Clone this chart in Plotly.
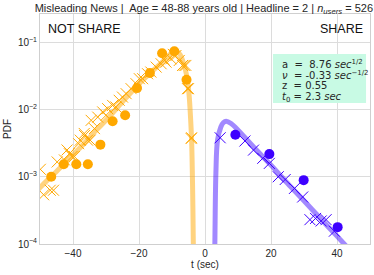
import plotly.graph_objects as go

# ---------------- data ----------------
# NOT SHARE (negative times): fitted curve
ns_line_t = [-52, -50, -45, -40, -35, -33, -30, -25, -20, -15, -12, -10, -9, -8.5, -7.5, -6.8, -6.0, -5.3, -4.8, -4.45, -4.06, -3.75, -3.55, -3.45, -3.35]
ns_line_y = [5.2e-4, 6.9e-4, 1.2e-3, 2.1e-3, 3.8e-3, 4.9e-3, 6.9e-3, 1.3e-2, 2.4e-2, 4.1e-2, 5.6e-2, 7.0e-2, 7.4e-2, 7.3e-2, 6.5e-2, 5.4e-2, 4.0e-2, 2.7e-2, 1.6e-2, 8.7e-3, 3.5e-3, 6.4e-4, 1.1e-4, 4e-5, 1e-5]

# NOT SHARE binned histogram (circles)
ns_bin_t = [-46.6, -42.8, -39.0, -35.5, -31.7, -28.0, -24.2, -20.6, -16.7, -13.0, -9.3, -5.6]
ns_bin_y = [1.0e-3, 1.53e-3, 1.53e-3, 1.53e-3, 3.0e-3, 6.7e-3, 8.2e-3, 2.08e-2, 3.48e-2, 6.87e-2, 7.36e-2, 2.77e-2]

# NOT SHARE fine histogram (crosses)
ns_fine_t = [-49.9, -48.9, -46.9, -45.9, -44.8, -42.6, -41.8, -41.1, -40.3, -39.6, -38.3, -37.8, -36.6, -36.5,
             -35.6, -34.8, -34.5, -33.5, -32.5, -31.0, -30.0, -29.5, -28.0, -27.0, -26.0, -25.0, -23.9,
             -22.4, -20.9, -19.9, -18.9, -17.4, -16.4, -14.8, -13.3, -12.5, -11.8, -10.3, -9.6, -8.8, -7.8,
             -6.8, -6.3, -5.8, -5.3, -5.0, -4.2, -4.06]
ns_fine_y = [1.29e-3, 5.4e-4, 6.3e-4, 6.3e-4, 1.66e-3, 1.78e-3, 2.5e-3, 2.2e-3, 2.0e-3, 2.0e-3, 3.1e-3, 3.5e-3, 4.4e-3, 4.1e-3,
             3.5e-3, 3.5e-3, 6.9e-3, 5.2e-3, 7.7e-3, 9.2e-3, 8.2e-3, 1.03e-2, 1.15e-2, 1.09e-2, 1.37e-2, 1.53e-2, 1.72e-2,
             2.04e-2, 2.42e-2, 2.87e-2, 2.87e-2, 3.4e-2, 3.6e-2, 4.27e-2, 4.79e-2, 5.6e-2, 5.06e-2, 5.68e-2, 6.6e-2, 6.35e-2, 5.36e-2,
             4.52e-2, 4.52e-2, 4.52e-2, 2.04e-2, 2.04e-2, 3.7e-3, 3.8e-3]

# SHARE (positive times): fitted curve
sh_line_t = [2.8, 3.0, 3.3, 3.8, 4.8, 5.6, 6.4, 7.9, 10.4, 15, 20, 25, 30, 35, 40, 45]
sh_line_y = [2e-5, 1.15e-4, 1.13e-3, 3.5e-3, 5.5e-3, 6.4e-3, 6.7e-3, 6.2e-3, 4.7e-3, 2.68e-3, 1.49e-3, 8.0e-4, 4.4e-4, 2.39e-4, 1.31e-4, 7.1e-5]

# SHARE binned histogram (circles)
sh_bin_t = [9.2, 19.5, 29.9, 40.2]
sh_bin_y = [4.2e-3, 2.17e-3, 8.9e-4, 1.78e-4]

# SHARE fine histogram (crosses)
sh_fine_t = [4.6, 12.1, 14.7, 17.5, 19.5, 22.2, 24.3, 27.1, 29.6, 31.8, 33.5, 35.2, 36.7, 39.2]
sh_fine_y = [3.8e-3, 3.4e-3, 2.49e-3, 1.88e-3, 1.58e-3, 1.0e-3, 9.1e-4, 6.7e-4, 5.0e-4, 2.3e-4, 2.4e-4, 2.2e-4, 2.3e-4, 1.55e-4]

y_tick_vals = [1e-4, 1e-3, 1e-2, 1e-1]
y_tick_text = ["10<sup>−4</sup>", "10<sup>−3</sup>", "10<sup>−2</sup>", "10<sup>−1</sup>"]
x_tick_vals = [-40, -20, 0, 20, 40]
x_tick_text = ["−40", "−20", "0", "20", "40"]

param_lines = [
    "a  =  8.76 <i>sec</i><sup>1/2</sup>",
    "<i>ν</i>  = -0.33 <i>sec</i><sup>−1/2</sup>",
    "z  = 0.55",
    "<i>t</i><sub>0</sub> = 2.3 <i>sec</i>",
]

ORANGE = "#FFA800"
PURPLE = "#3D00FF"

fig = go.Figure()
fig.add_trace(go.Scatter(x=ns_line_t, y=ns_line_y, mode="lines",
                         line=dict(color="rgba(255,168,0,0.5)", width=5, shape="spline"), hoverinfo="skip"))
fig.add_trace(go.Scatter(x=sh_line_t, y=sh_line_y, mode="lines",
                         line=dict(color="rgba(70,20,255,0.5)", width=5, shape="spline"), hoverinfo="skip"))
fig.add_trace(go.Scatter(x=ns_fine_t, y=ns_fine_y, mode="markers",
                         marker=dict(symbol="x-thin", size=11, line=dict(color=ORANGE, width=1))))
fig.add_trace(go.Scatter(x=ns_bin_t, y=ns_bin_y, mode="markers",
                         marker=dict(symbol="circle", size=10, color=ORANGE)))
fig.add_trace(go.Scatter(x=sh_fine_t, y=sh_fine_y, mode="markers",
                         marker=dict(symbol="x-thin", size=11, line=dict(color=PURPLE, width=1))))
fig.add_trace(go.Scatter(x=sh_bin_t, y=sh_bin_y, mode="markers",
                         marker=dict(symbol="circle", size=10, color=PURPLE)))

fig.update_layout(
    width=374, height=275,
    margin=dict(l=40, r=4, t=14, b=31),
    paper_bgcolor="white", plot_bgcolor="white",
    showlegend=False,
    font=dict(family="Liberation Sans, Arial, sans-serif", color="#262626", size=10),
    title=dict(text="Misleading News |  Age = 48-88 years old | Headline = 2 | <i>n</i><sub><i>users</i></sub> = 526",
               x=0.545, xanchor="center", y=0.985, yanchor="top", font=dict(size=11, color="#262626")),
)
fig.update_xaxes(range=[-50, 50], tickvals=x_tick_vals, ticktext=x_tick_text,
                 showgrid=True, gridcolor="#dcdcdc", gridwidth=1, zeroline=False,
                 showline=True, linecolor="#cfcfcf", linewidth=1, mirror=True, ticks="",
                 title=dict(text="t (sec)", standoff=2, font=dict(size=10)))
fig.update_yaxes(type="log", range=[-4, -0.58], tickvals=y_tick_vals, ticktext=y_tick_text,
                 showgrid=True, gridcolor="#dcdcdc", gridwidth=1, zeroline=False,
                 showline=True, linecolor="#cfcfcf", linewidth=1, mirror=True, ticks="",
                 title=dict(text="PDF", standoff=4, font=dict(size=10)))

fig.add_annotation(xref="paper", yref="paper", x=0.018, y=0.975, xanchor="left", yanchor="top",
                   text="NOT SHARE", showarrow=False, font=dict(size=12.5, color="#111111"))
fig.add_annotation(xref="paper", yref="paper", x=0.985, y=0.975, xanchor="right", yanchor="top",
                   text="SHARE", showarrow=False, font=dict(size=12.5, color="#111111"))

# parameter box
fig.add_shape(type="rect", xref="paper", yref="paper", x0=0.706, x1=0.988, y0=0.613, y1=0.826,
              fillcolor="#C8FAE4", line=dict(width=0), layer="above")
for i, txt in enumerate(param_lines):
    fig.add_annotation(xref="paper", yref="paper", x=0.728, y=0.783 - i * 0.048,
                       xanchor="left", yanchor="middle", text=txt, showarrow=False,
                       font=dict(size=10, color="#262626", family="DejaVu Sans, sans-serif"))

fig.write_html("out.html", config={"displayModeBar": False},
               post_script="document.body.style.margin='0';document.body.style.overflow='hidden';")
